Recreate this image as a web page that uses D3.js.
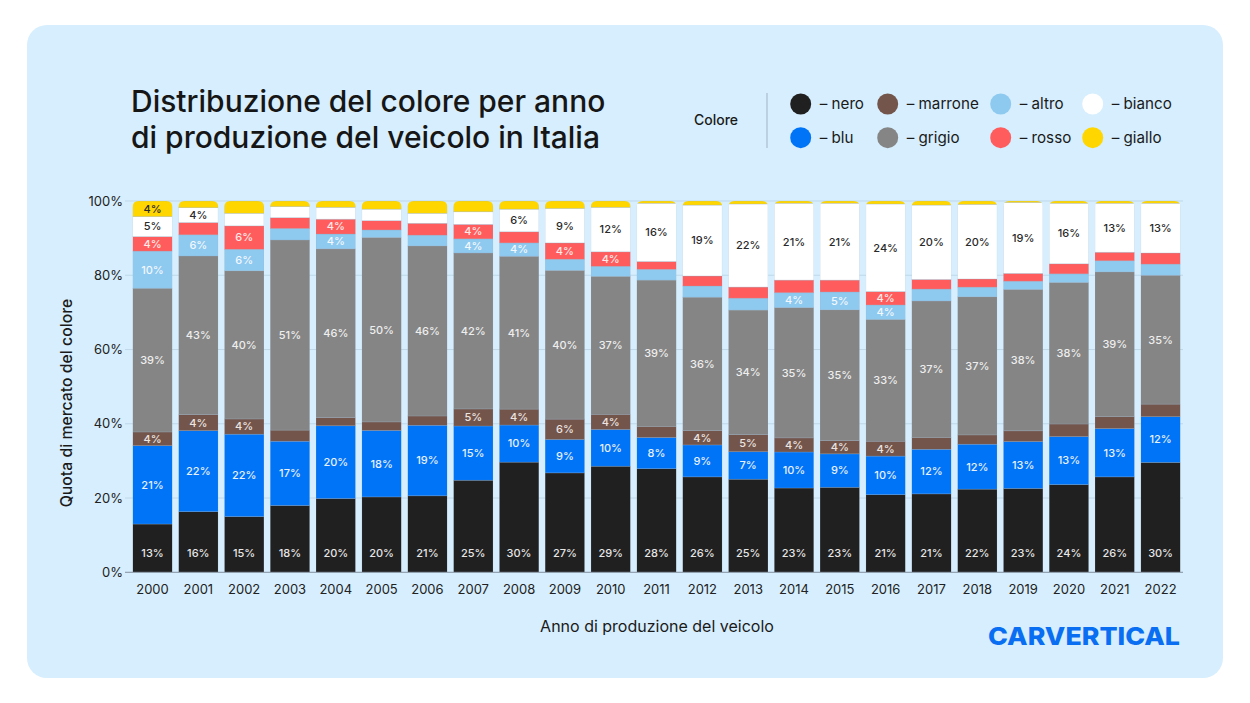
<!DOCTYPE html>
<html><head><meta charset="utf-8">
<script src="https://cdn.jsdelivr.net/npm/d3@7"></script>
<style>
body{margin:0;background:#fff;font-family:Inter,"Noto Sans",sans-serif;}
svg{display:block}
</style></head>
<body><svg id="c" width="1250" height="703"></svg>
<script>
const years = ["2000","2001","2002","2003","2004","2005","2006","2007","2008","2009","2010","2011","2012","2013","2014","2015","2016","2017","2018","2019","2020","2021","2022"];
const nero    = [13.0,16.3,15.0,18.0,19.9,20.3,20.6,24.8,29.7,26.8,28.6,27.9,25.7,25.1,22.7,22.9,20.9,21.1,22.4,22.6,23.6,25.7,29.6];
const blu     = [21.1,21.8,22.2,17.3,19.6,17.9,19.0,14.6,10.0,9.0,9.9,8.4,8.6,7.4,9.7,9.0,10.4,12.0,12.1,12.6,12.9,13.0,12.3];
const marrone = [3.7,4.3,4.1,3.0,2.2,2.3,2.5,4.6,4.3,5.5,4.1,3.0,3.9,4.6,3.8,3.6,4.0,3.2,2.5,2.9,3.4,3.2,3.4];
const grigio  = [38.7,42.7,39.9,51.2,45.5,49.7,45.8,42.0,41.2,40.1,37.2,39.4,35.9,33.6,35.1,35.2,32.8,36.7,37.2,38.1,38.1,39.0,34.7];
const altro   = [10.0,5.7,5.8,3.1,4.0,2.0,2.9,3.8,3.6,3.0,2.7,2.9,3.0,3.2,4.0,4.8,3.9,3.2,2.6,2.2,2.3,3.0,3.0];
const rosso   = [3.9,3.3,6.3,2.9,4.0,2.5,3.2,3.9,3.0,4.4,3.9,2.1,2.7,3.0,3.4,3.2,3.6,2.6,2.2,2.1,2.7,2.3,3.0];
const bianco  = [5.4,4.0,3.4,3.0,3.2,3.1,2.7,3.4,6.1,9.3,12.0,15.7,19.1,22.4,20.7,20.7,23.6,20.0,20.1,19.1,16.3,13.2,13.4];
const giallo  = [4.2,1.8,3.3,1.5,1.7,2.2,3.3,2.9,2.2,2.0,1.7,0.6,1.1,0.8,0.6,0.6,0.8,1.1,0.9,0.4,0.6,0.6,0.6];
const yTicks = [0,20,40,60,80,100];

const seriesKeys = ["nero","blu","marrone","grigio","altro","rosso","bianco","giallo"];
const seriesData = {nero,blu,marrone,grigio,altro,rosso,bianco,giallo};
const colors = {nero:"#202020",blu:"#0074f7",marrone:"#73554b",grigio:"#858585",altro:"#8ec9f0",rosso:"#ff5d5d",bianco:"#ffffff",giallo:"#ffd600"};
const labelColors = {nero:"#e6e6e6",blu:"#e8f1ff",marrone:"#ece4e0",grigio:"#eeeeee",altro:"#f2f8fd",rosso:"#ffeaea",bianco:"#2a2a2a",giallo:"#2a2a2a"};
const legendOrder = [["nero","blu"],["marrone","grigio"],["altro","rosso"],["bianco","giallo"]];

const table = years.map((y,i)=>{const o={year:y};seriesKeys.forEach(k=>o[k]=seriesData[k][i]);return o;});

const svg = d3.select("#c");
svg.append("rect").attr("x",27).attr("y",25).attr("width",1196).attr("height",653).attr("rx",20).attr("fill","#d6eefd");

const x = d3.scaleBand().domain(years).range([129.6,1183.5]).paddingInner(0.135).paddingOuter(0.0675);
const y = d3.scaleLinear().domain([0,1]).range([572.3,201]);

svg.append("g").selectAll("line").data(yTicks).join("line")
  .attr("x1",125).attr("x2",1183).attr("y1",d=>y(d/100)).attr("y2",d=>y(d/100))
  .attr("stroke","#bfd8ea").attr("stroke-width",1);

const stack = d3.stack().keys(seriesKeys).offset(d3.stackOffsetExpand);
const stacked = stack(table);

const defs = svg.append("defs");
const r = 6;
years.forEach((yr,i)=>{
  const x0 = x(yr), w = x.bandwidth(), top = y(1), bot = y(0);
  const p = d3.path();
  p.moveTo(x0,bot); p.lineTo(x0,top+r); p.quadraticCurveTo(x0,top,x0+r,top);
  p.lineTo(x0+w-r,top); p.quadraticCurveTo(x0+w,top,x0+w,top+r); p.lineTo(x0+w,bot); p.closePath();
  defs.append("clipPath").attr("id","clip"+i).append("path").attr("d",p.toString());
});

const bars = svg.append("g");
years.forEach((yr,i)=>{
  const g = bars.append("g").attr("clip-path",`url(#clip${i})`);
  stacked.forEach(s=>{
    const d = s[i];
    g.append("rect").attr("x",x(yr)).attr("width",x.bandwidth())
      .attr("y",y(d[1])).attr("height",Math.max(0,y(d[0])-y(d[1])))
      .attr("fill",colors[s.key]).attr("stroke","rgba(150,170,190,0.45)").attr("stroke-width",0.6);
  });
});

const lab = svg.append("g").attr("font-size",11).attr("font-weight",500).attr("text-anchor","middle");
stacked.forEach(s=>{
  years.forEach((yr,i)=>{
    const v = seriesData[s.key][i];
    if (v < 3.5) return;
    const d = s[i];
    const cy = s.key==="nero" ? y(0)-19 : (y(d[0])+y(d[1]))/2;
    lab.append("text").attr("x",x(yr)+x.bandwidth()/2).attr("y",cy).attr("dy","0.35em")
      .attr("fill",labelColors[s.key]).text(Math.round(v)+"%");
  });
});

const yAxis = d3.axisLeft(y).tickValues(yTicks.map(t=>t/100)).tickFormat(d=>Math.round(d*100)+"%").tickSize(0).tickPadding(0);
const ya = svg.append("g").attr("transform","translate(123,0)").call(yAxis);
ya.select(".domain").remove();
ya.selectAll("text").attr("font-size",13).attr("font-family","Inter").attr("fill","#222");

svg.append("line").attr("x1",125).attr("x2",1183).attr("y1",y(0)).attr("y2",y(0)).attr("stroke","#8a97a3").attr("stroke-width",1);

const xAxis = d3.axisBottom(x).tickSize(0).tickPadding(12);
const xa = svg.append("g").attr("transform",`translate(0,${y(0)})`).call(xAxis);
xa.select(".domain").remove();
xa.selectAll("text").attr("font-size",13).attr("font-family","Inter").attr("fill","#222");

svg.append("text").attr("transform","translate(72,403) rotate(-90)").attr("text-anchor","middle")
  .attr("font-size",15.8).attr("font-weight",500).attr("fill","#1a1a1a").text("Quota di mercato del colore");
svg.append("text").attr("x",657).attr("y",632).attr("text-anchor","middle")
  .attr("font-size",16).attr("font-weight",400).attr("fill","#1a1a1a").text("Anno di produzione del veicolo");

const title = svg.append("text").attr("font-size",30).attr("font-weight",500).attr("fill","#161616");
title.append("tspan").attr("x",131).attr("y",112).text("Distribuzione del colore per anno");
title.append("tspan").attr("x",131).attr("y",148).text("di produzione del veicolo in Italia");

svg.append("text").attr("x",694).attr("y",125).attr("font-size",14).attr("font-weight",500).attr("fill","#1a1a1a").text("Colore");
svg.append("line").attr("x1",767).attr("x2",767).attr("y1",93).attr("y2",148).attr("stroke","#a9bfcf").attr("stroke-width",1.2);
const colX = [800.7,887.7,1000.7,1092.7], rowY = [104,137.7];
legendOrder.forEach((col,ci)=>{
  col.forEach((k,ri)=>{
    svg.append("circle").attr("cx",colX[ci]).attr("cy",rowY[ri]).attr("r",10.5).attr("fill",colors[k]);
    svg.append("text").attr("x",colX[ci]+19).attr("y",rowY[ri]).attr("dy","0.35em").attr("font-size",15.2)
      .attr("fill","#1a1a1a").text("– "+k);
  });
});

svg.append("text").attr("x",988).attr("y",645).attr("font-size",25).attr("font-weight",800)
  .attr("fill","#0a6ef2").attr("textLength",192).attr("lengthAdjust","spacingAndGlyphs").text("CARVERTICAL");
</script></body></html>
